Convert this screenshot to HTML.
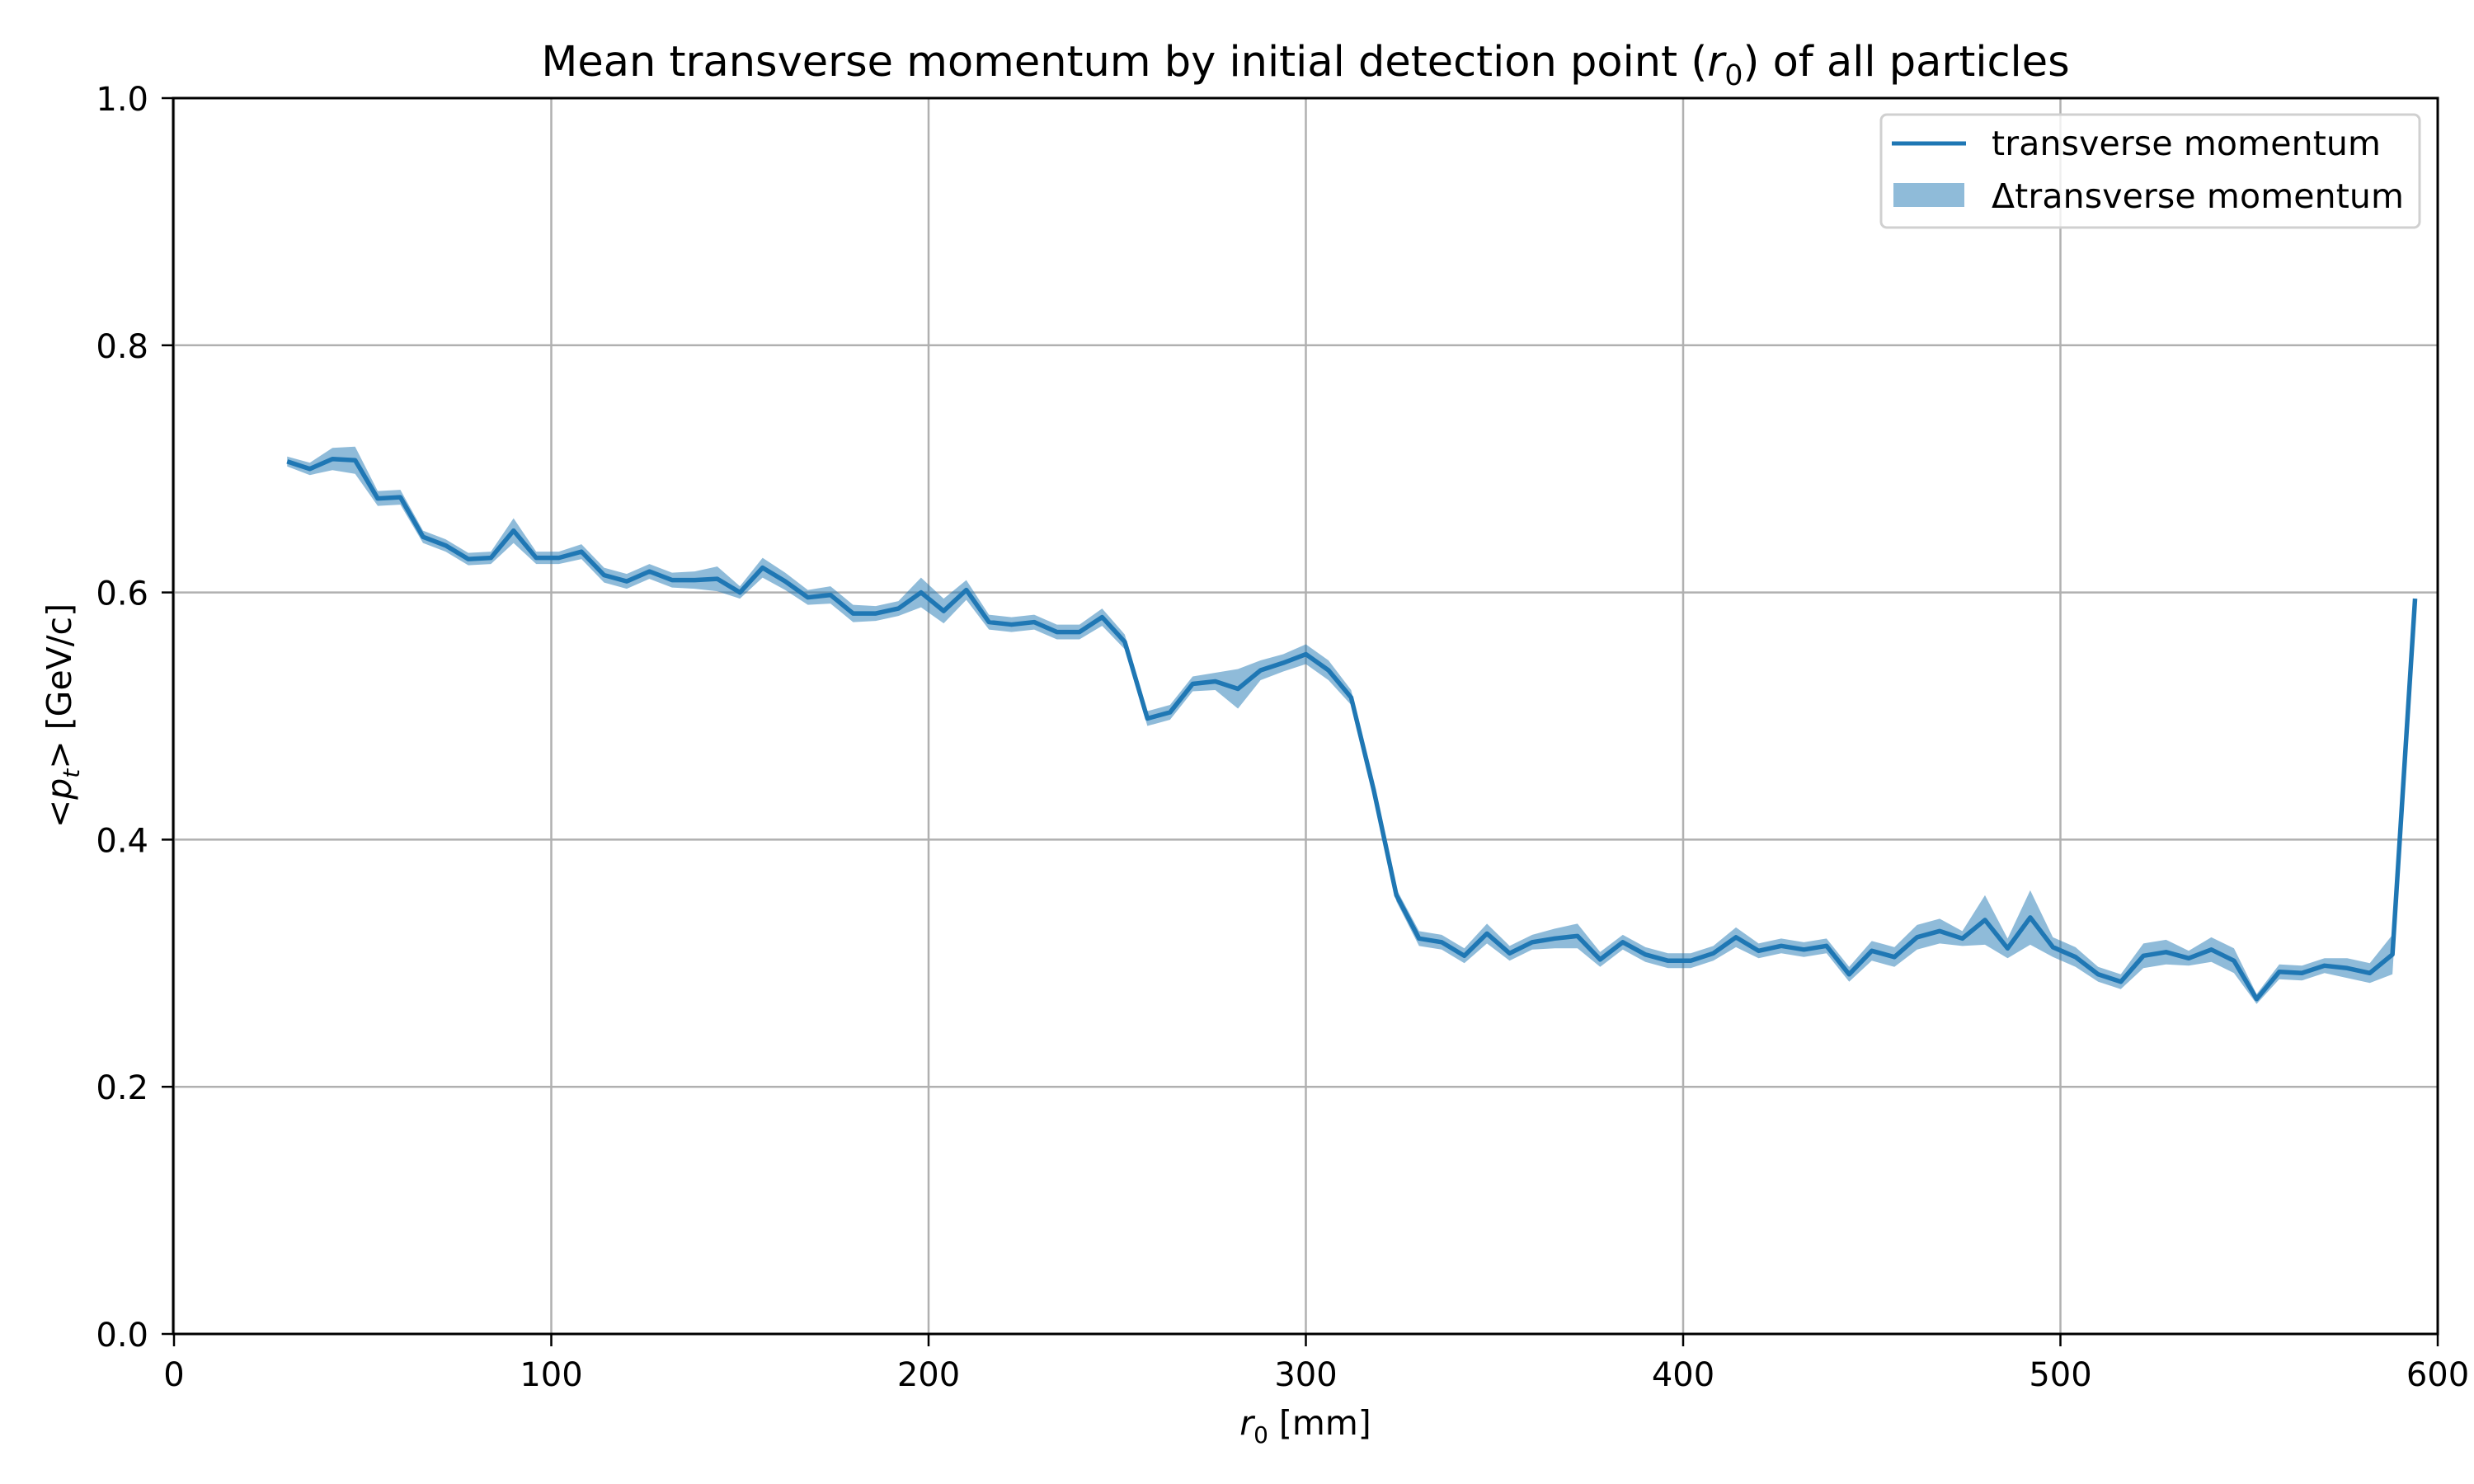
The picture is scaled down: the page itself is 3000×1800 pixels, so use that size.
<!DOCTYPE html>
<html><head><meta charset="utf-8"><style>
html,body{margin:0;padding:0;background:#fff;}
svg{display:block;font-family:"DejaVu Sans","Liberation Sans",sans-serif;}
</style></head><body>
<svg id="chart" width="3000" height="1800" viewBox="0 0 3000 1800" xmlns="http://www.w3.org/2000/svg">
<rect width="3000" height="1800" fill="#fff"/>
<g id="grid"></g>
<g id="series"></g>
<rect x="210" y="119" width="2746" height="1499" fill="none" stroke="#000" stroke-width="3"/>
<g id="ticks"></g>
<text x="1583" y="92" font-size="51" text-anchor="middle">Mean transverse momentum by initial detection point (<tspan font-style="italic">r</tspan><tspan font-size="35" dy="11">0</tspan><tspan dy="-11">) of all particles</tspan></text>
<text x="1583" y="1740" font-size="41" text-anchor="middle"><tspan font-style="italic">r</tspan><tspan font-size="28" dy="10">0</tspan><tspan dy="-10"> [mm]</tspan></text>
<text transform="translate(86,868) rotate(-90)" font-size="41" text-anchor="middle">&lt;<tspan font-style="italic">p</tspan><tspan font-size="28" dy="10" font-style="italic">t</tspan><tspan dy="-10">&gt; [GeV/c]</tspan></text>
<g>
<rect x="2281" y="139" width="653" height="137" rx="7" fill="#fff" fill-opacity="0.8" stroke="#d0d0d0" stroke-width="3"/>
<line x1="2294" y1="174" x2="2384" y2="174" stroke="#1f77b4" stroke-width="5"/>
<text x="2415" y="188" font-size="41" textLength="472">transverse momentum</text>
<rect x="2296" y="222" width="86" height="29" fill="#1f77b4" fill-opacity="0.5"/>
<text x="2415" y="252" font-size="41" textLength="500">Δtransverse momentum</text>
</g>
</svg>
<script>
const rValues=[30,36,42,48,54,60,66,72,78,84,90,96,102,108,114,120,126,132,138,144,150,156,162,168,174,180,186,192,198,204,210,216,222,228,234,240,246,252,258,264,270,276,282,288,294,300,306,312,318,324,330,336,342,348,354,360,366,372,378,384,390,396,402,408,414,420,426,432,438,444,450,456,462,468,474,480,486,492,498,504,510,516,522,528,534,540,546,552,558,564,570,576,582,588,594];
const ptValues=[0.706,0.700,0.708,0.707,0.676,0.677,0.645,0.638,0.627,0.628,0.650,0.628,0.628,0.633,0.614,0.609,0.617,0.610,0.610,0.611,0.600,0.620,0.609,0.596,0.598,0.583,0.583,0.587,0.600,0.585,0.602,0.576,0.574,0.576,0.568,0.568,0.580,0.560,0.498,0.503,0.526,0.528,0.522,0.537,0.543,0.550,0.537,0.515,0.440,0.355,0.320,0.317,0.306,0.324,0.308,0.317,0.320,0.322,0.303,0.317,0.307,0.302,0.302,0.308,0.321,0.310,0.314,0.311,0.314,0.291,0.310,0.305,0.321,0.326,0.320,0.335,0.312,0.337,0.313,0.305,0.291,0.285,0.306,0.309,0.304,0.311,0.302,0.271,0.293,0.292,0.298,0.296,0.292,0.307,0.595];
const errValues=[0.004,0.005,0.009,0.011,0.006,0.006,0.005,0.005,0.005,0.005,0.010,0.005,0.005,0.006,0.006,0.006,0.006,0.006,0.007,0.010,0.005,0.008,0.007,0.006,0.007,0.007,0.006,0.006,0.012,0.010,0.008,0.006,0.006,0.006,0.006,0.006,0.007,0.006,0.006,0.006,0.006,0.007,0.016,0.008,0.007,0.008,0.008,0.006,0.004,0.005,0.006,0.006,0.006,0.008,0.006,0.006,0.008,0.010,0.006,0.006,0.006,0.006,0.006,0.006,0.008,0.006,0.006,0.006,0.006,0.006,0.008,0.008,0.010,0.010,0.006,0.020,0.008,0.022,0.008,0.008,0.006,0.006,0.010,0.010,0.006,0.010,0.010,0.004,0.006,0.006,0.006,0.008,0.008,0.016,0.001];
const xTicks=[0,100,200,300,400,500,600];
const yTicks=[0.0,0.2,0.4,0.6,0.8,1.0];
const yTickLabels=["0.0","0.2","0.4","0.6","0.8","1.0"];
const L=211,R=2956,T=119,B=1618;
const sx=v=>L+(v-0)/(600-0)*(R-L);
const sy=v=>B-(v-0)/(1-0)*(B-T);
const NS='http://www.w3.org/2000/svg';
const grid=document.getElementById('grid'),ticks=document.getElementById('ticks'),series=document.getElementById('series');
function mk(tag,attrs,parent){const e=document.createElementNS(NS,tag);for(const k in attrs)e.setAttribute(k,attrs[k]);parent.appendChild(e);return e;}
xTicks.forEach(t=>{
 const g=mk('line',{x1:sx(t),x2:sx(t),y1:T,y2:B,stroke:'#b0b0b0','stroke-width':2.5},grid);
 
 
 const tk=mk('line',{x1:sx(t),x2:sx(t),y1:B,y2:B+15,stroke:'#000','stroke-width':2.5},ticks);
 
 
 const tx=mk('text',{x:sx(t),y:B+63,'font-size':40,'text-anchor':'middle'},ticks);
 tx.textContent=String(t);
 
 
});
yTicks.forEach((t,i)=>{
 const g=mk('line',{x1:L,x2:R,y1:sy(t),y2:sy(t),stroke:'#b0b0b0','stroke-width':2.5},grid);
 
 
 const tk=mk('line',{x1:L-15,x2:L,y1:sy(t),y2:sy(t),stroke:'#000','stroke-width':2.5},ticks);
 
 
 const tx=mk('text',{x:L-31,y:sy(t)+15,'font-size':40,'text-anchor':'end'},ticks);
 tx.textContent=yTickLabels[i];
 
 
});
let up=[],dn=[];
rValues.forEach((r,i)=>{up.push(sx(r)+','+sy(ptValues[i]+errValues[i]));dn.unshift(sx(r)+','+sy(ptValues[i]-errValues[i]));});
const band=mk('polygon',{points:up.concat(dn).join(' '),fill:'#1f77b4','fill-opacity':0.5,stroke:'none'},series);


const line=mk('polyline',{points:rValues.map((r,i)=>sx(r)+','+sy(ptValues[i])).join(' '),fill:'none',stroke:'#1f77b4','stroke-width':5.5,'stroke-linejoin':'round'},series);


</script>
</body></html>
